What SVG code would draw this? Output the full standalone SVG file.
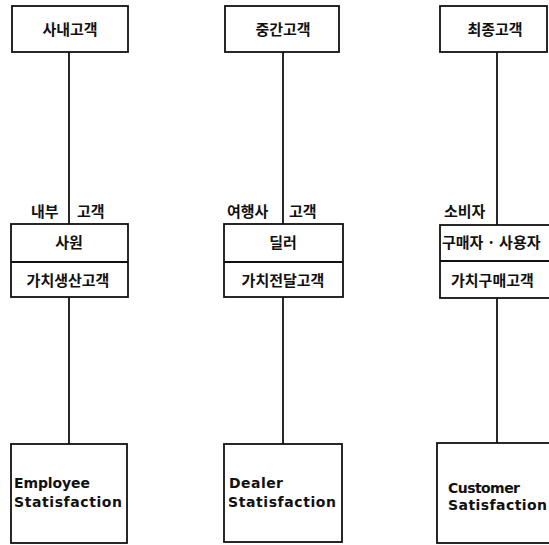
<svg xmlns="http://www.w3.org/2000/svg" width="549" height="545" viewBox="0 0 549 545">
  <style>
    .box { fill: #fff; stroke: #111; stroke-width: 1.8; }
    .link { stroke: #111; stroke-width: 1.8; fill: none; }
    .ko { font-family: "Noto Sans CJK KR", "Noto Sans", sans-serif; font-weight: 700; font-size: 15px; fill: #111; }
    .mid { text-anchor: middle; }
    .en { font-family: "DejaVu Sans", "Liberation Sans", sans-serif; font-weight: 700; font-size: 14px; fill: #111; }
  </style>
  <rect width="549" height="545" fill="#fff"/>

  <!-- vertical connectors between the tiers -->
  <g id="connectors">
    <line class="link" x1="69" y1="52" x2="69" y2="224"/>
    <line class="link" x1="69" y1="297" x2="69" y2="444"/>
    <line class="link" x1="283" y1="52" x2="283" y2="224"/>
    <line class="link" x1="283" y1="297" x2="283" y2="444"/>
    <line class="link" x1="497" y1="52" x2="497" y2="225"/>
    <line class="link" x1="497" y1="298" x2="497" y2="443"/>
  </g>

  <!-- column 1 -->
  <g id="internal-customer">
    <rect class="box" x="12" y="6" width="116" height="46"/>
    <text class="ko mid" x="70" y="35">사내고객</text>
  </g>
  <g id="employee">
    <text class="ko" x="31" y="217">내부</text>
    <text class="ko" x="77" y="217">고객</text>
    <rect class="box" x="11" y="224" width="117" height="73"/>
    <line class="link" x1="11" y1="262" x2="128" y2="262"/>
    <text class="ko mid" x="69" y="248">사원</text>
    <text class="ko mid" x="68" y="286">가치생산고객</text>
  </g>
  <g id="employee-satisfaction">
    <rect class="box" x="11" y="444" width="116" height="99"/>
    <text class="en" x="14" y="488" textLength="76" lengthAdjust="spacing">Employee</text>
    <text class="en" x="14" y="507" textLength="108" lengthAdjust="spacing">Statisfaction</text>
  </g>

  <!-- column 2 -->
  <g id="intermediate-customer">
    <rect class="box" x="225" y="6" width="114" height="46"/>
    <text class="ko mid" x="283" y="35">중간고객</text>
  </g>
  <g id="dealer">
    <text class="ko" x="227" y="217">여행사</text>
    <text class="ko" x="289" y="217">고객</text>
    <rect class="box" x="224" y="224" width="119" height="73"/>
    <line class="link" x1="224" y1="262" x2="343" y2="262"/>
    <text class="ko mid" x="283" y="248">딜러</text>
    <text class="ko mid" x="283" y="286">가치전달고객</text>
  </g>
  <g id="dealer-satisfaction">
    <rect class="box" x="224" y="444" width="118" height="98"/>
    <text class="en" x="229" y="488" textLength="54" lengthAdjust="spacing">Dealer</text>
    <text class="en" x="228" y="507" textLength="108" lengthAdjust="spacing">Statisfaction</text>
  </g>

  <!-- column 3 -->
  <g id="final-customer">
    <rect class="box" x="440" y="6" width="107" height="46"/>
    <text class="ko mid" x="495" y="35">최종고객</text>
  </g>
  <g id="buyer-user">
    <text class="ko" x="444" y="217">소비자</text>
    <rect class="box" x="440" y="225" width="130" height="73"/>
    <line class="link" x1="440" y1="261" x2="570" y2="261"/>
    <text class="ko" x="442" y="248">구매자 · 사용자</text>
    <text class="ko" x="451" y="286">가치구매고객</text>
  </g>
  <g id="customer-satisfaction">
    <rect class="box" x="437" y="443" width="130" height="100"/>
    <text class="en" x="448" y="493" textLength="72" lengthAdjust="spacing">Customer</text>
    <text class="en" x="448" y="510" textLength="99" lengthAdjust="spacing">Satisfaction</text>
  </g>
</svg>
